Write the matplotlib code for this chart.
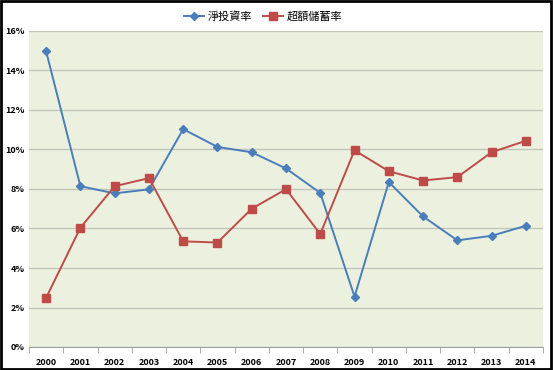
import matplotlib.pyplot as plt
from matplotlib.patches import Rectangle

plt.rcParams['font.family'] = ['Noto Sans CJK TC', 'DejaVu Sans']

# data (percent)
years = ['2000', '2001', '2002', '2003', '2004', '2005', '2006', '2007',
         '2008', '2009', '2010', '2011', '2012', '2013', '2014']
net_invest = [14.97, 8.14, 7.78, 7.98, 11.03, 10.13, 9.86, 9.04,
              7.80, 2.55, 8.35, 6.61, 5.40, 5.63, 6.14]
excess_saving = [2.49, 6.04, 8.14, 8.55, 5.35, 5.29, 7.00, 7.99,
                 5.72, 9.96, 8.90, 8.43, 8.60, 9.86, 10.44]
yticks = [0, 2, 4, 6, 8, 10, 12, 14, 16]

fig = plt.figure(figsize=(5.53, 3.70), dpi=100)
ax = fig.add_axes([29 / 553, 23 / 370, 514 / 553, 316 / 370])
ax.set_facecolor('#EBF1DE')

x = list(range(len(years)))
ax.plot(x, net_invest, color='#4A7EBB', lw=1.4, marker='D', ms=4,
        label='淨投資率', zorder=3)
ax.plot(x, excess_saving, color='#BE4B48', lw=1.4, marker='s', ms=5.5,
        label='超額儲蓄率', zorder=3)

ax.set_xlim(-0.5, len(years) - 0.5)
ax.set_ylim(0, 16)
ax.set_yticks(yticks)
ax.set_yticklabels([f'{v}%' for v in yticks], fontsize=6.5, fontweight='bold')
ax.set_xticks(x)
ax.set_xticklabels(years, fontsize=6.5, fontweight='bold')
ax.tick_params(axis='x', length=0, pad=8)
ax.tick_params(axis='y', length=0, pad=3)
ax.set_xticks([i + 0.5 for i in range(-1, len(years))], minor=True)
ax.tick_params(axis='x', which='minor', length=4, color='#A0A0A0', direction='out')

ax.grid(axis='y', color='#C4C4BC', lw=1)
ax.set_axisbelow(True)
for s in ['top', 'right', 'left']:
    ax.spines[s].set_visible(False)
ax.spines['bottom'].set_color('#A0A0A0')

ax.legend(loc='upper center', bbox_to_anchor=(0.455, 1.095), ncol=2,
          frameon=False, fontsize=8, handlelength=1.8, columnspacing=1.0,
          handletextpad=0.3)

fig.patches.append(Rectangle((0.002, 0.003), 0.994, 0.993, transform=fig.transFigure,
                             fill=False, edgecolor='black', lw=2))

fig.savefig('out.png', dpi=100)
